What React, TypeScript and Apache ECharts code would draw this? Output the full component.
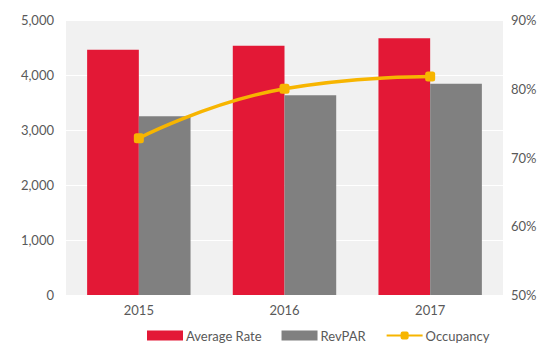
import React, { useEffect, useRef } from "react";
import * as echarts from "echarts";

const categories = ["2015", "2016", "2017"];
const averageRate = [4460, 4530, 4670];
const revPAR = [3250, 3630, 3840];
const occupancy = [72.8, 80.0, 81.8];

export default function App() {
  const ref = useRef<HTMLDivElement>(null);
  useEffect(() => {
    const chart = echarts.init(ref.current!, null, { renderer: "svg" });
    const font = "Lato";
    chart.setOption({
      animation: false,
      textStyle: { fontFamily: font },
      grid: {
        left: 66,
        right: 50,
        top: 20,
        bottom: 56,
        show: true,
        backgroundColor: "#f1f1f1",
        borderWidth: 0,
      },
      legend: {
        bottom: 4,
        left: 142,
        itemWidth: 36,
        itemHeight: 10,
        itemGap: 20,
        textStyle: { color: "#595959", fontSize: 13, fontFamily: font, padding: [0, 0, 0, -2] },
        data: [
          { name: "Average Rate", icon: "rect" },
          { name: "RevPAR", icon: "rect" },
          { name: "Occupancy" },
        ],
      },
      xAxis: {
        type: "category",
        data: categories,
        axisLine: { show: false },
        axisTick: { show: false },
        axisLabel: { color: "#595959", fontSize: 13, margin: 8 },
      },
      yAxis: [
        {
          type: "value",
          min: 0,
          max: 5000,
          interval: 1000,
          axisLine: { show: false },
          axisTick: { show: false },
          splitLine: { lineStyle: { color: "#ffffff", width: 1 } },
          axisLabel: {
            color: "#595959",
            fontSize: 13,
            margin: 12,
            formatter: (v: number) => v.toLocaleString("en-US"),
          },
        },
        {
          type: "value",
          min: 50,
          max: 90,
          interval: 10,
          position: "right",
          axisLine: { show: false },
          axisTick: { show: false },
          splitLine: { show: false },
          axisLabel: {
            color: "#595959",
            fontSize: 13,
            margin: 8,
            formatter: (v: number) => v + "%",
          },
        },
      ],
      series: [
        {
          name: "Average Rate",
          type: "bar",
          data: averageRate,
          itemStyle: { color: "#e31836" },
          barGap: "0%",
          barCategoryGap: "29%",
        },
        {
          name: "RevPAR",
          type: "bar",
          data: revPAR,
          itemStyle: { color: "#808080" },
        },
        {
          name: "Occupancy",
          type: "line",
          yAxisIndex: 1,
          data: occupancy,
          smooth: true,
          symbol: "roundRect",
          symbolSize: 10,
          lineStyle: { color: "#f7b500", width: 3.5 },
          itemStyle: { color: "#f7b500" },
        },
      ],
    });
    return () => chart.dispose();
  }, []);
  return <div ref={ref} style={{ width: 553, height: 351, margin: -8 }} />;
}
